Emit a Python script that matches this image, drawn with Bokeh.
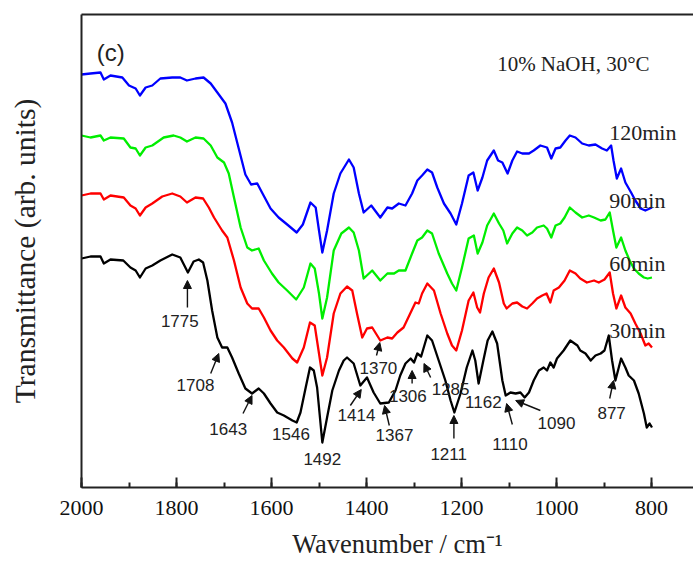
from bokeh.plotting import figure
from bokeh.models import Range1d, SingleIntervalTicker, FixedTicker, Label, Arrow, NormalHead, LinearAxis
from bokeh.embed import file_html
from bokeh.resources import INLINE

# ---- data (wavenumber cm-1, transmittance arb. units, offset stacked) ----
wn_30 = [2000, 1981, 1960, 1953, 1939, 1912, 1897, 1886, 1877, 1865, 1851, 1834, 1809, 1792, 1776, 1764,
         1753, 1744, 1735, 1725, 1714, 1704, 1693, 1683, 1669, 1655, 1641, 1627, 1616, 1602, 1588, 1574,
         1556, 1547, 1539, 1528, 1519, 1511, 1504, 1493, 1483, 1472, 1458, 1448, 1441, 1427, 1413, 1399,
         1385, 1371, 1353, 1339, 1329, 1318, 1307, 1300, 1293, 1285, 1272, 1262, 1248, 1234, 1223, 1215,
         1202, 1189, 1177, 1171, 1164, 1154, 1145, 1135, 1125, 1114, 1107, 1097, 1086, 1076, 1067, 1058,
         1048, 1037, 1027, 1020, 1013, 1006, 999, 985, 971, 956, 950, 939, 928, 918, 907, 899, 890, 883,
         876, 864, 855, 848, 837, 827, 816, 810, 804, 799]
t_30 = [229, 231, 231, 224, 228, 227, 220, 217, 210, 219, 222, 227, 233, 230, 215, 226,
        228, 225, 207, 177, 150, 140, 140, 130, 114, 99, 94, 99, 94, 84, 75, 72,
        67, 65, 75, 100, 120, 117, 100, 45, 70, 97, 117, 127, 130, 124, 102, 110,
        95, 84, 85, 97, 112, 124, 129, 125, 134, 131, 152, 147, 127, 107, 87, 75,
        94, 120, 137, 127, 104, 127, 147, 156, 144, 107, 92, 95, 94, 95, 90, 95,
        107, 117, 120, 117, 125, 120, 129, 137, 147, 142, 137, 134, 127, 132, 134, 137, 152, 127,
        107, 129, 120, 112, 107, 94, 74, 60, 64, 60]

wn_60 = [2000, 1981, 1960, 1953, 1939, 1911, 1897, 1886, 1877, 1865, 1851, 1830, 1809, 1792, 1778, 1760,
         1744, 1732, 1721, 1704, 1693, 1679, 1665, 1651, 1641, 1627, 1616, 1602, 1588, 1574, 1556, 1546,
         1532, 1519, 1509, 1500, 1493, 1483, 1469, 1455, 1441, 1430, 1420, 1409, 1399, 1388, 1371, 1356,
         1346, 1335, 1322, 1308, 1297, 1290, 1283, 1272, 1258, 1244, 1230, 1220, 1211, 1199, 1185, 1175,
         1167, 1161, 1153, 1143, 1132, 1121, 1111, 1105, 1093, 1083, 1072, 1062, 1051, 1041, 1030, 1021,
         1013, 1006, 995, 983, 972, 960, 950, 936, 921, 911, 899, 888, 881, 874, 864, 855, 844, 834,
         823, 813, 806, 799]
t_60 = [292, 294, 294, 288, 292, 290, 282, 279, 272, 280, 284, 291, 294, 291, 285, 290,
        289, 280, 270, 257, 250, 227, 200, 184, 179, 179, 170, 157, 147, 140, 129, 125,
        140, 165, 162, 134, 112, 130, 174, 194, 201, 197, 174, 150, 159, 160, 147, 150,
        149, 155, 160, 174, 185, 184, 194, 204, 197, 174, 154, 142, 137, 157, 187, 195,
        180, 175, 194, 210, 219, 205, 184, 179, 184, 185, 181, 179, 184, 189, 192, 194,
        185, 197, 200, 207, 217, 214, 209, 205, 207, 205, 208, 215, 194, 179, 192, 180, 174, 164,
        154, 142, 144, 140]

wn_90 = [2000, 1981, 1960, 1953, 1939, 1911, 1897, 1886, 1877, 1865, 1851, 1827, 1806, 1792, 1778, 1760,
         1743, 1728, 1714, 1700, 1690, 1679, 1665, 1651, 1641, 1627, 1616, 1599, 1585, 1567, 1548, 1532,
         1518, 1509, 1500, 1493, 1483, 1469, 1453, 1437, 1427, 1416, 1406, 1388, 1371, 1356, 1342, 1332,
         1318, 1304, 1293, 1283, 1272, 1262, 1248, 1230, 1220, 1211, 1199, 1185, 1174, 1166, 1156, 1146,
         1132, 1121, 1112, 1104, 1093, 1083, 1072, 1062, 1051, 1041, 1027, 1020, 1011, 1002, 992, 983,
         972, 960, 946, 932, 921, 907, 897, 888, 881, 874, 864, 855, 846, 837, 827, 816, 808, 799]
t_90 = [352, 350, 352, 347, 350, 349, 340, 339, 332, 340, 342, 350, 352, 350, 346, 350,
        349, 342, 330, 325, 314, 290, 260, 240, 237, 239, 227, 214, 205, 197, 188, 200,
        224, 219, 194, 169, 190, 237, 254, 260, 255, 237, 209, 217, 207, 214, 214, 217,
        217, 234, 247, 250, 257, 254, 234, 214, 204, 197, 220, 249, 252, 234, 245, 262,
        274, 264, 257, 244, 254, 260, 257, 252, 255, 260, 262, 259, 250, 262, 264, 270,
        280, 275, 270, 272, 270, 267, 268, 275, 257, 240, 250, 237, 227, 219, 214, 210, 209, 210]

wn_120 = [2000, 1981, 1960, 1953, 1939, 1914, 1900, 1886, 1877, 1865, 1851, 1834, 1809, 1792, 1778, 1760,
          1743, 1728, 1714, 1697, 1683, 1669, 1655, 1643, 1630, 1620, 1602, 1585, 1567, 1547, 1534, 1518,
          1507, 1500, 1493, 1483, 1469, 1455, 1437, 1427, 1416, 1406, 1390, 1371, 1356, 1346, 1332, 1318,
          1304, 1293, 1283, 1272, 1262, 1251, 1237, 1223, 1211, 1199, 1185, 1175, 1166, 1156, 1146, 1132,
          1123, 1114, 1103, 1093, 1083, 1072, 1058, 1048, 1034, 1020, 1011, 1002, 992, 981, 972, 960,
          946, 932, 918, 904, 894, 885, 880, 873, 864, 855, 843, 834, 823, 813, 799]
t_120 = [413, 414, 415, 408, 412, 410, 402, 399, 392, 400, 402, 409, 410, 410, 407, 409,
         410, 404, 395, 384, 365, 339, 313, 303, 304, 295, 279, 270, 263, 255, 263, 285,
         280, 257, 235, 257, 294, 314, 328, 320, 294, 275, 282, 270, 280, 279, 284, 282,
         294, 307, 312, 318, 315, 300, 284, 274, 263, 284, 312, 315, 297, 310, 327, 337,
         327, 325, 314, 327, 336, 334, 334, 337, 342, 340, 329, 339, 340, 347, 352, 350,
         344, 342, 343, 339, 337, 342, 327, 309, 319, 305, 295, 287, 279, 277, 280]

series_names = ["30min", "60min", "90min", "120min"]
series_colors = ["#000000", "#ff0000", "#00ee00", "#0000ff"]

# peak annotations: text, text position, arrow start, arrow end (data units)
peak_text = ["1775", "1708", "1643", "1546", "1492", "1414", "1367", "1370", "1306", "1285",
             "1162", "1211", "1110", "1090", "877"]
peak_tx = [1793, 1760, 1691, 1559, 1493, 1421, 1341, 1375, 1313, 1223, 1154, 1227, 1098, 1000, 884]
peak_ty = [167, 103, 59, 54, 29, 73, 53, 120, 92, 99, 86, 34, 44, 65, 75]
arrows = [
    (1777, 180, 1777, 207),
    (1728, 114, 1711, 134),
    (1660, 74, 1641, 92),
    (1434, 82, 1411, 98),
    (1352, 62, 1362, 82),
    (1379, 132, 1372, 145),
    (1304, 104, 1304, 117),
    (1265, 110, 1279, 124),
    (1216, 49, 1216, 72),
    (1093, 63, 1105, 84),
    (1034, 77, 1086, 87),
    (888, 89, 880, 107),
]
curve_label_y = [157, 224, 287, 355]

SERIF = "Liberation Serif"
SANS = "Liberation Sans"
AX = "#222222"

p = figure(width=693, height=562, output_backend="svg", toolbar_location=None,
           x_range=Range1d(2000, 711.6), y_range=Range1d(0, 473),
           min_border_left=81, min_border_right=0, min_border_top=14, min_border_bottom=75)
p.xgrid.visible = False
p.ygrid.visible = False
p.outline_line_color = None
p.background_fill_color = "white"
p.border_fill_color = "white"

xa = p.xaxis[0]
xa.ticker = SingleIntervalTicker(interval=200, num_minor_ticks=2)
xa.major_tick_in = 10
xa.major_tick_out = 0
xa.minor_tick_in = 5
xa.minor_tick_out = 0
xa.major_tick_line_width = 2
xa.minor_tick_line_width = 2
xa.major_tick_line_color = AX
xa.minor_tick_line_color = AX
xa.axis_line_width = 2
xa.axis_line_color = AX
xa.major_label_text_font = SERIF
xa.major_label_text_font_size = "22px"
xa.major_label_text_color = "#111111"
xa.major_label_standoff = 13
xa.axis_label = "\u00a0\u00a0\u00a0Wavenumber / cm\u207b\u00b9"
xa.axis_label_text_font = SERIF
xa.axis_label_text_font_size = "26.5px"
xa.axis_label_text_font_style = "normal"
xa.axis_label_text_color = "#222222"
xa.axis_label_standoff = 11

ya = p.yaxis[0]
ya.ticker = FixedTicker(ticks=[])
ya.major_tick_line_color = None
ya.minor_tick_line_color = None
ya.major_label_text_font_size = "0px"
ya.major_label_standoff = 0
ya.axis_line_width = 2
ya.axis_line_color = AX
ya.axis_label = "Transmittance (arb. units)"
ya.axis_label_text_font = SERIF
ya.axis_label_text_font_size = "29.5px"
ya.axis_label_text_font_style = "normal"
ya.axis_label_text_color = "#222222"
ya.axis_label_standoff = 41

top = LinearAxis(ticker=FixedTicker(ticks=[]), axis_line_width=2, axis_line_color=AX,
                 major_tick_line_color=None, minor_tick_line_color=None,
                 major_label_text_font_size="0px", major_label_standoff=0)
p.add_layout(top, "above")

for xs, ys, c in [(wn_30, t_30, series_colors[0]), (wn_60, t_60, series_colors[1]),
                  (wn_90, t_90, series_colors[2]), (wn_120, t_120, series_colors[3])]:
    p.line(xs, ys, line_color=c, line_width=2.3, line_join="round")

for name, yy in zip(series_names, curve_label_y):
    p.add_layout(Label(x=889, y=yy, text=name, text_font=SERIF, text_font_size="22px",
                       text_align="left", text_baseline="middle", text_color="#222222"))

for t, x, y in zip(peak_text, peak_tx, peak_ty):
    p.add_layout(Label(x=x, y=y, text=t, text_font=SANS, text_font_size="17px",
                       text_align="center", text_baseline="middle", text_color="#222222"))

for x0, y0, x1, y1 in arrows:
    p.add_layout(Arrow(end=NormalHead(size=8, fill_color="#111111", line_color="#111111", line_width=1),
                       x_start=x0, y_start=y0, x_end=x1, y_end=y1,
                       line_color="#111111", line_width=1.4))

p.add_layout(Label(x=1125, y=424, text="10% NaOH, 30\u00b0C", text_font=SERIF, text_font_size="21px",
                   text_align="left", text_baseline="middle", text_color="#222222"))
p.add_layout(Label(x=1968, y=435, text="(c)", text_font=SANS, text_font_size="24px",
                   text_align="left", text_baseline="middle", text_color="#222222"))

open("out.html", "w").write(file_html(p, INLINE))
